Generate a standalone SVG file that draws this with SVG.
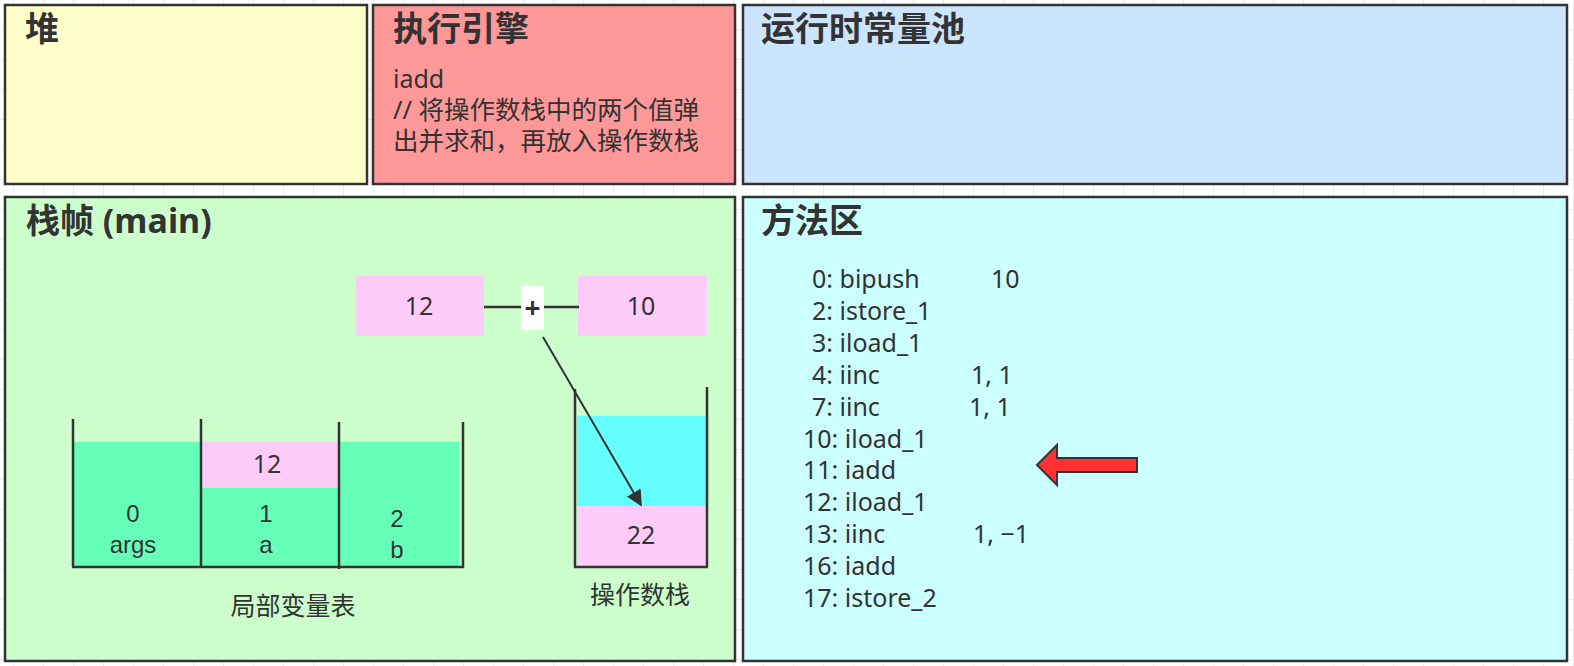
<svg xmlns="http://www.w3.org/2000/svg" width="1574" height="666" viewBox="0 0 1574 666">
<defs>
<pattern id="grid" x="13" y="29" width="30" height="30" patternUnits="userSpaceOnUse">
<path d="M0 0V30M0 0H30" stroke="#ececec" stroke-width="2" fill="none"/>
</pattern>
<marker id="ah" viewBox="0 0 10 10" refX="9" refY="5" markerWidth="8" markerHeight="8" orient="auto" markerUnits="strokeWidth">
<path d="M0 0L10 5L0 10z" fill="#333"/>
</marker>
<style>
.box{stroke:#333;stroke-width:2.5}
.title{font-family:"Noto Sans","Noto Sans CJK SC",sans-serif;font-size:34px;font-weight:bold;fill:#333}
.t{font-family:"Noto Sans","Noto Sans CJK SC",sans-serif;font-size:25px;fill:#333}
.s{font-family:"Liberation Sans","Noto Sans CJK SC",sans-serif;font-size:24px;fill:#333}
.c{text-anchor:middle}
.ln{stroke:#333;stroke-width:2.5;fill:none}
.pink{fill:#FFCCFA}
.lv{fill:#66FFB8}
</style>
</defs>
<rect width="1574" height="666" fill="#ffffff"/>
<rect width="1574" height="666" fill="url(#grid)"/>

<g id="heap">
<rect class="box" x="5" y="5" width="362" height="179" fill="#FFFFCC"/>
<text class="title" x="25" y="41">堆</text>
</g>

<g id="engine">
<rect class="box" x="373" y="5" width="362" height="179" fill="#FF9999"/>
<text class="title" x="393" y="41">执行引擎</text>
<text class="t" x="393" y="88">iadd</text>
<text class="t" x="393" y="119" style="font-size:25.5px">// 将操作数栈中的两个值弹</text>
<text class="t" x="393" y="150" style="font-size:25.5px">出并求和，再放入操作数栈</text>
</g>

<g id="constpool">
<rect class="box" x="743" y="5" width="824" height="179" fill="#CCE5FF"/>
<text class="title" x="761" y="41">运行时常量池</text>
</g>

<g id="frame">
<rect class="box" x="5" y="197" width="730" height="464" fill="#CCFFCC"/>
<text class="title" x="26" y="233">栈帧 (main)</text>
</g>

<g id="localvars">
<rect class="lv" x="73" y="442" width="128" height="125"/>
<rect class="pink" x="201" y="442" width="138" height="46"/>
<rect class="lv" x="201" y="488" width="138" height="79"/>
<rect class="lv" x="339" y="442" width="120" height="125"/>
<path class="ln" d="M73 419V567M201 419V567M339 422V569M463 422V568M72 567H464"/>
<text class="t c" x="267" y="473">12</text>
<text class="s c" x="133" y="522">0</text>
<text class="s c" x="133" y="553">args</text>
<text class="s c" x="266" y="522">1</text>
<text class="s c" x="266" y="553">a</text>
<text class="s c" x="397" y="527">2</text>
<text class="s c" x="397" y="558">b</text>
<text class="t c" x="293" y="615">局部变量表</text>
</g>

<g id="opstack">
<rect x="577" y="416" width="130" height="90" fill="#66FFFF"/>
<rect class="pink" x="577" y="506" width="130" height="61"/>
<path class="ln" d="M575 389V567M707 387V567M574 567H708"/>
<text class="t c" x="641" y="544">22</text>
<text class="t c" x="640" y="604">操作数栈</text>
</g>

<g id="val12">
<rect class="pink" x="356" y="276" width="128" height="60"/>
<text class="t c" x="419" y="315">12</text>
</g>
<g id="val10">
<rect class="pink" x="578" y="276" width="129" height="60"/>
<text class="t c" x="641" y="315">10</text>
</g>
<g id="plus">
<rect x="521" y="286" width="23" height="44" fill="#ffffff"/>
<text class="t c" x="532.5" y="318" style="font-weight:bold;font-size:28px">+</text>
</g>

<g id="connectors">
<path class="ln" d="M484 307H521M544 307H579" stroke-width="2"/>
<line x1="543" y1="337" x2="641" y2="505" stroke="#333" stroke-width="2" marker-end="url(#ah)"/>
</g>

<g id="method">
<rect class="box" x="743" y="197" width="824" height="464" fill="#CCFFFF"/>
<text class="title" x="761" y="233">方法区</text>
<g class="t">
<text x="812" y="288">0: bipush</text><text x="991" y="288">10</text>
<text x="812" y="320">2: istore_1</text>
<text x="812" y="352">3: iload_1</text>
<text x="812" y="384">4: iinc</text><text x="971" y="384">1, 1</text>
<text x="812" y="416">7: iinc</text><text x="969" y="416">1, 1</text>
<text x="803" y="448">10: iload_1</text>
<text x="803" y="479">11: iadd</text>
<text x="803" y="511">12: iload_1</text>
<text x="803" y="543">13: iinc</text><text x="973" y="543">1, −1</text>
<text x="803" y="575">16: iadd</text>
<text x="803" y="607">17: istore_2</text>
</g>
</g>

<g id="pointer">
<path d="M1037 465L1057 445V458H1137V472H1057V485Z" fill="#FF3333" stroke="#333" stroke-width="2" stroke-linejoin="miter"/>
</g>
</svg>
